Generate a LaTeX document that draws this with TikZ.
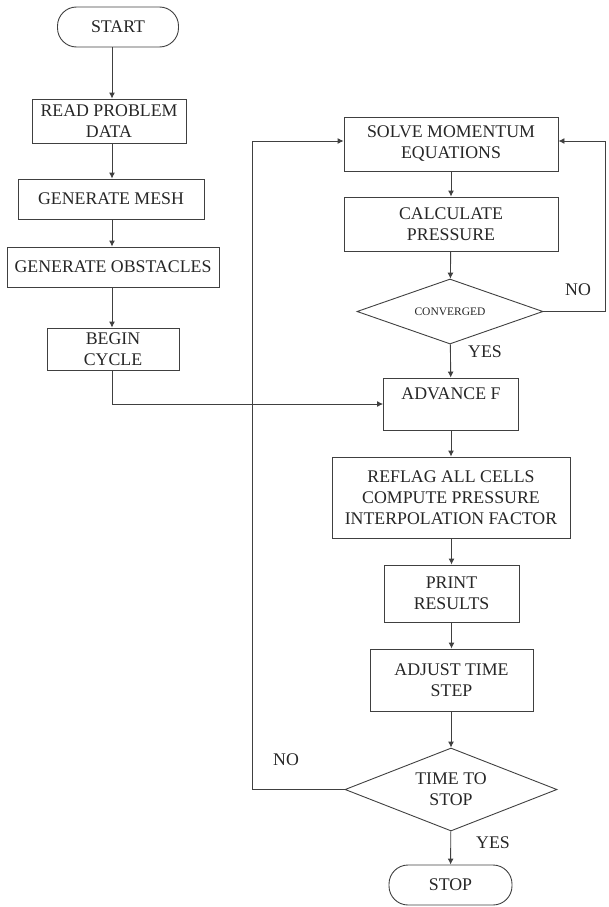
\documentclass[tikz,border=0pt]{standalone}
\usepackage{fontspec}
\setmainfont{Liberation Serif}
\usetikzlibrary{shapes.geometric,arrows.meta,calc}
\tikzset{
  ln/.style={draw=black!75, line width=0.9pt},
  arr/.style={ln, -{Latex[length=6pt,width=6pt]}},
  box/.style={ln, rectangle, align=center, inner sep=2pt, font=\fontsize{17.8}{21}\selectfont, text=black!85},
  term/.style={box, rounded corners=19pt},
  dec/.style={ln, diamond, aspect=2.6, inner sep=0pt, align=center, text=black!85},
  lbl/.style={font=\fontsize{17.8}{21}\selectfont, text=black!85, inner sep=0pt}
}
\begin{document}
\begin{tikzpicture}[x=1pt,y=-1pt]
\useasboundingbox (0,0) rectangle (608,907);
% left column
\node[term, minimum width=121pt, minimum height=40pt] (start) at (118,27) {START};
\node[box, minimum width=154pt, minimum height=44pt] (read) at (109,121) {READ PROBLEM\\DATA};
\node[box, minimum width=186pt, minimum height=40pt] (mesh) at (111,199) {GENERATE MESH};
\node[box, minimum width=212pt, minimum height=40pt] (obst) at (113,267) {GENERATE OBSTACLES};
\node[box, minimum width=132pt, minimum height=42pt] (begin) at (113,349) {BEGIN\\CYCLE};
% right column
\node[box, minimum width=214pt, minimum height=54pt] (solve) at (451,144) {SOLVE MOMENTUM\\EQUATIONS};
\node[box, minimum width=214pt, minimum height=54pt] (calc) at (451,224) {CALCULATE\\PRESSURE};
\node[dec, minimum width=186pt, minimum height=65pt, font=\fontsize{11.5}{13}\selectfont] (conv) at (450,311.5) {CONVERGED};
\node[box, minimum width=135pt, minimum height=52pt] (adv) at (451,404) {ADVANCE F\\\mbox{}};
\node[box, minimum width=238pt, minimum height=81pt] (reflag) at (451,497.5) {REFLAG ALL CELLS\\COMPUTE PRESSURE\\INTERPOLATION FACTOR};
\node[box, minimum width=135pt, minimum height=57pt] (print) at (451.5,593.5) {PRINT\\RESULTS};
\node[box, minimum width=163pt, minimum height=62pt] (adjust) at (451.5,680) {ADJUST TIME\\STEP};
\node[dec, minimum width=212pt, minimum height=83pt, font=\fontsize{17.8}{21}\selectfont] (tts) at (451,789.5) {TIME TO\\STOP};
\node[term, minimum width=123pt, minimum height=40pt] (stop) at (450.5,885) {STOP};
% labels
\node[lbl] (no1) at (578,290) {NO};
\node[lbl] (yes1) at (485,352) {YES};
\node[lbl] (no2) at (286,760) {NO};
\node[lbl] (yes2) at (493,843) {YES};
% helper coordinates
\coordinate (lx) at (112,0);
\coordinate (lft) at (252,0);
\coordinate (rgt) at (605,0);
% left connectors
\draw[arr] (start.south -| lx) -- (read.north -| lx);
\draw[arr] (read.south -| lx) -- (mesh.north -| lx);
\draw[arr] (mesh.south -| lx) -- (obst.north -| lx);
\draw[arr] (obst.south -| lx) -- (begin.north -| lx);
\draw[arr] (begin.south -| lx) |- (adv.west);
% right connectors
\draw[arr] (solve) -- (calc);
\draw[arr] (calc) -- (conv);
\draw[arr] (conv) -- (adv);
\draw[arr] (adv) -- (reflag);
\draw[arr] (reflag.south -| print) -- (print.north);
\draw[arr] (print.south -| adjust) -- (adjust.north);
\draw[arr] (adjust.south -| tts) -- (tts.north);
\draw[arr] (tts) -- (stop);
% loops
\draw[arr] (conv.east) -- (conv.east -| rgt) |- ($(solve.east)+(0,-3)$);
\draw[arr] (tts.west) -- (tts.west -| lft) |- ($(solve.west)+(0,-3)$);
\end{tikzpicture}
\end{document}
